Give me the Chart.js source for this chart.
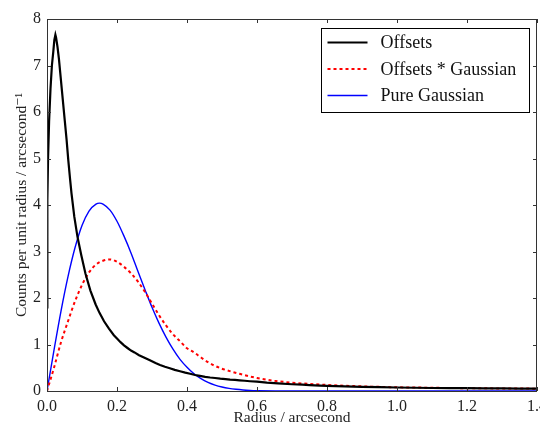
<!DOCTYPE html>
<html>
<head>
<meta charset="utf-8">
<script src="https://cdn.jsdelivr.net/npm/chart.js@4/dist/chart.umd.min.js"></script>
<style>
  html, body { margin: 0; padding: 0; background: #fff; }
  #wrap { width: 540px; height: 427px; }
</style>
</head>
<body>
<div id="wrap"><canvas id="radial"></canvas></div>
<script>
// radial distribution of offsets, in arcsec
const offsetsR = [0, 0.001, 0.003, 0.006, 0.010, 0.014, 0.018, 0.021, 0.024, 0.026, 0.030, 0.034,
  0.039, 0.044, 0.051, 0.056, 0.061, 0.066, 0.070, 0.078, 0.087, 0.098, 0.110, 0.124, 0.139,
  0.150, 0.163, 0.177, 0.191, 0.200, 0.210, 0.220, 0.229, 0.240, 0.250, 0.263, 0.277, 0.294,
  0.310, 0.323, 0.337, 0.351, 0.365, 0.380, 0.395, 0.409, 0.423, 0.437, 0.452, 0.466, 0.480,
  0.495, 0.510, 0.523, 0.537, 0.550, 0.565, 0.580, 0.600, 0.628, 0.660, 0.700, 0.730, 0.750,
  0.780, 0.800, 0.850, 0.900, 0.950, 1.000, 1.050, 1.100, 1.150, 1.200, 1.250, 1.300, 1.350, 1.400];
const offsetsCounts = [1.8, 4.1, 5.0, 5.8, 6.5, 7.0, 7.3, 7.55, 7.66, 7.6, 7.4, 7.15,
  6.75, 6.35, 5.8, 5.4, 4.95, 4.55, 4.25, 3.75, 3.32, 2.92, 2.52, 2.16, 1.86,
  1.68, 1.5, 1.34, 1.2, 1.13, 1.05, 0.98, 0.93, 0.87, 0.83, 0.77, 0.72, 0.66,
  0.60, 0.56, 0.52, 0.49, 0.455, 0.425, 0.395, 0.37, 0.345, 0.325, 0.305, 0.29, 0.28,
  0.265, 0.255, 0.245, 0.24, 0.23, 0.22, 0.21, 0.20, 0.18, 0.165, 0.145, 0.135, 0.125,
  0.115, 0.11, 0.10, 0.09, 0.085, 0.075, 0.07, 0.065, 0.062, 0.06, 0.057, 0.055, 0.052, 0.05];

// offsets convolved with the gaussian
const convR = [0, 0.02, 0.04, 0.06, 0.08, 0.10, 0.12, 0.14, 0.16, 0.18, 0.20, 0.22, 0.24,
  0.26, 0.28, 0.30, 0.32, 0.34, 0.36, 0.38, 0.40, 0.42, 0.44, 0.46, 0.48, 0.50,
  0.55, 0.60, 0.65, 0.70, 0.80, 0.90, 1.00, 1.10, 1.20, 1.30, 1.40];
const convCounts = [0, 0.5, 1.05, 1.5, 1.93, 2.28, 2.55, 2.72, 2.80, 2.83, 2.78, 2.67, 2.53,
  2.35, 2.13, 1.88, 1.63, 1.41, 1.22, 1.07, 0.92, 0.83, 0.72, 0.62, 0.54, 0.48,
  0.37, 0.28, 0.22, 0.18, 0.13, 0.10, 0.08, 0.07, 0.06, 0.055, 0.05];

// pure gaussian profile
const gaussR = [0, 0.02, 0.04, 0.06, 0.08, 0.10, 0.12, 0.14, 0.15, 0.16, 0.18, 0.20, 0.22, 0.24,
  0.26, 0.28, 0.30, 0.32, 0.34, 0.36, 0.38, 0.40, 0.42, 0.44, 0.46, 0.48, 0.50,
  0.52, 0.54, 0.56, 0.58, 0.60, 0.70, 0.80, 1.00, 1.20, 1.40];
const gaussCounts = [0, 0.88, 1.72, 2.46, 3.08, 3.56, 3.87, 4.02, 4.04, 4.02, 3.89, 3.65, 3.33, 2.97,
  2.57, 2.18, 1.80, 1.46, 1.16, 0.90, 0.68, 0.51, 0.37, 0.265, 0.185, 0.127, 0.086,
  0.057, 0.037, 0.023, 0.014, 0.009, 0, 0, 0, 0, 0];

const xTicks = [0, 0.2, 0.4, 0.6, 0.8, 1.0, 1.2, 1.4];
const yTicks = [0, 1, 2, 3, 4, 5, 6, 7, 8];

const serif = '"Liberation Serif", "DejaVu Serif", serif';

function pts(xs, ys) {
  return xs.map((x, i) => ({ x: x, y: ys[i] }));
}

// box around the plot with ticks pointing inwards on all four sides
const framePlugin = {
  id: 'frame',
  afterDatasetsDraw(chart) {
    const { ctx, chartArea: a, scales } = chart;
    const len = 4;
    ctx.save();
    ctx.strokeStyle = '#333';
    ctx.lineWidth = 1;
    ctx.strokeRect(a.left + 0.5, a.top + 0.5, a.right - a.left - 1, a.bottom - a.top);
    ctx.beginPath();
    scales.x.ticks.forEach(t => {
      const px = Math.round(scales.x.getPixelForValue(t.value)) + 0.5;
      ctx.moveTo(px, a.bottom); ctx.lineTo(px, a.bottom - len);
      ctx.moveTo(px, a.top); ctx.lineTo(px, a.top + len);
    });
    scales.y.ticks.forEach(t => {
      const py = Math.round(scales.y.getPixelForValue(t.value)) + 0.5;
      ctx.moveTo(a.left, py); ctx.lineTo(a.left + len, py);
      ctx.moveTo(a.right, py); ctx.lineTo(a.right - len, py);
    });
    ctx.stroke();
    ctx.restore();
  }
};

// legend drawn inside the top right corner of the plot
const boxLegend = {
  id: 'boxLegend',
  afterDraw(chart) {
    const { ctx, chartArea: a } = chart;
    const w = 208, h = 84;
    const x0 = Math.round(a.right - 8 - w) + 0.5;
    const y0 = Math.round(a.top + 9) + 0.5;
    ctx.save();
    ctx.fillStyle = '#fff';
    ctx.fillRect(x0, y0, w, h);
    ctx.strokeStyle = '#000';
    ctx.lineWidth = 1;
    ctx.strokeRect(x0, y0, w, h);
    ctx.font = '18px ' + serif;
    ctx.textBaseline = 'middle';
    chart.data.datasets.forEach((ds, i) => {
      const y = y0 + 14 + i * 26.5;
      ctx.strokeStyle = ds.borderColor;
      ctx.lineWidth = ds.borderWidth;
      ctx.setLineDash(ds.borderDash || []);
      ctx.beginPath();
      ctx.moveTo(x0 + 6, y);
      ctx.lineTo(x0 + 46, y);
      ctx.stroke();
      ctx.setLineDash([]);
      ctx.fillStyle = '#111';
      ctx.fillText(ds.label, x0 + 59, y + 1);
    });
    ctx.restore();
  }
};

new Chart(document.getElementById('radial'), {
  type: 'line',
  data: {
    datasets: [
      {
        label: 'Offsets',
        data: pts(offsetsR, offsetsCounts),
        borderColor: '#000',
        borderWidth: 2.2,
        pointRadius: 0,
        tension: 0
      },
      {
        label: 'Offsets * Gaussian',
        data: pts(convR, convCounts),
        borderColor: '#ff0000',
        borderWidth: 2,
        borderDash: [3, 3],
        pointRadius: 0,
        cubicInterpolationMode: 'monotone'
      },
      {
        label: 'Pure Gaussian',
        data: pts(gaussR, gaussCounts),
        borderColor: '#0000ff',
        borderWidth: 1.4,
        pointRadius: 0,
        cubicInterpolationMode: 'monotone'
      }
    ]
  },
  options: {
    responsive: true,
    maintainAspectRatio: false,
    animation: false,
    layout: { padding: { top: 19, right: 3, left: 0, bottom: 0 } },
    plugins: { legend: { display: false }, tooltip: { enabled: false } },
    scales: {
      x: {
        type: 'linear',
        min: 0,
        max: 1.4,
        afterFit: s => { s.height = 36; s.paddingLeft = 0; s.paddingRight = 0; },
        afterBuildTicks: s => { s.ticks = xTicks.map(v => ({ value: v })); },
        grid: { display: false, drawTicks: false },
        border: { display: false },
        ticks: {
          padding: 6,
          color: '#222',
          font: { family: serif, size: 16 },
          maxRotation: 0,
          callback: v => v.toFixed(1)
        },
        title: {
          display: true,
          text: 'Radius / arcsecond',
          color: '#222',
          font: { family: serif, size: 15.5, lineHeight: 1 },
          padding: { top: 0, bottom: 1 }
        }
      },
      y: {
        min: 0,
        max: 8,
        afterFit: s => { s.width = 47; s.paddingTop = 0; s.paddingBottom = 0; },
        afterBuildTicks: s => { s.ticks = yTicks.map(v => ({ value: v })); },
        grid: { display: false, drawTicks: false },
        border: { display: false },
        ticks: {
          padding: 6,
          color: '#222',
          font: { family: serif, size: 16 },
          callback: v => String(v)
        },
        title: {
          display: true,
          text: 'Counts per unit radius / arcsecond\u207B\u00B9',
          color: '#222',
          font: { family: serif, size: 15.5, lineHeight: 1 },
          padding: { top: 14, bottom: 0 }
        }
      }
    }
  },
  plugins: [framePlugin, boxLegend]
});
</script>
</body>
</html>
